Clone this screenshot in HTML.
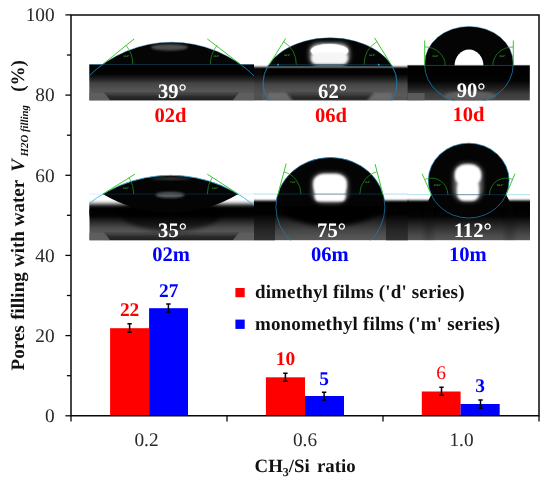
<!DOCTYPE html>
<html><head><meta charset="utf-8"><title>Pores filling with water</title>
<style>
html,body{margin:0;padding:0;background:#fff;}
svg{display:block;will-change:transform;}
text{font-family:"Liberation Serif",serif;text-rendering:geometricPrecision;}
.b{font-weight:bold;}
</style></head><body>
<svg width="550" height="483" viewBox="0 0 550 483">
<defs>
<linearGradient id="gs1" x1="0" y1="0" x2="0" y2="1">
<stop offset="0" stop-color="#000"/><stop offset="0.35" stop-color="#030303"/><stop offset="0.6" stop-color="#1c1c1c"/><stop offset="0.85" stop-color="#484848"/><stop offset="1" stop-color="#5c5c5c"/>
</linearGradient>
<linearGradient id="gs2" x1="0" y1="0" x2="0" y2="1">
<stop offset="0" stop-color="#000"/><stop offset="0.3" stop-color="#020202"/><stop offset="0.6" stop-color="#1a1a1a"/><stop offset="0.85" stop-color="#3c3c3c"/><stop offset="1" stop-color="#505050"/>
</linearGradient>
<linearGradient id="band" x1="0" y1="0" x2="0" y2="1"><stop offset="0" stop-color="#141414" stop-opacity="0"/><stop offset="0.5" stop-color="#141414" stop-opacity="0.6"/><stop offset="1" stop-color="#141414" stop-opacity="0.8"/></linearGradient>
<filter id="by22" x="-5%" y="-80%" width="110%" height="260%"><feGaussianBlur stdDeviation="0 2.2"/></filter>
<filter id="by12" x="-5%" y="-80%" width="110%" height="260%"><feGaussianBlur stdDeviation="0 1.2"/></filter>
<filter id="by10" x="-5%" y="-80%" width="110%" height="260%"><feGaussianBlur stdDeviation="0 1.0"/></filter>
<filter id="b1" x="-30%" y="-30%" width="160%" height="160%"><feGaussianBlur stdDeviation="1.1"/></filter>
<filter id="b2" x="-30%" y="-30%" width="160%" height="160%"><feGaussianBlur stdDeviation="2"/></filter>
<filter id="b05" x="-10%" y="-30%" width="120%" height="160%"><feGaussianBlur stdDeviation="0.6"/></filter>
<filter id="be" x="-5%" y="-60%" width="110%" height="220%"><feGaussianBlur stdDeviation="1.6"/></filter>

<clipPath id="cT"><rect x="89" y="15" width="441" height="85.3"/></clipPath>
<clipPath id="cB"><rect x="89" y="140" width="441" height="100.3"/></clipPath>
<clipPath id="c1a"><rect x="89" y="20" width="165" height="45"/></clipPath>
<clipPath id="c1"><rect x="89.3" y="20" width="165.4" height="80.4"/></clipPath>
<clipPath id="c2a"><rect x="254" y="20" width="153.6" height="46.4"/></clipPath>
<clipPath id="c2"><rect x="254" y="20" width="154.4" height="80.4"/></clipPath>
<clipPath id="c3a"><rect x="407.6" y="20" width="122.4" height="45.8"/></clipPath>
<clipPath id="c3"><rect x="407.6" y="20" width="122.2" height="80.4"/></clipPath>
<clipPath id="c4a"><rect x="89" y="150" width="165" height="44.1"/></clipPath>
<clipPath id="c4"><rect x="89.3" y="150" width="165.4" height="90.4"/></clipPath>
<clipPath id="c5"><rect x="254" y="145" width="154.4" height="95.4"/></clipPath>
<clipPath id="c5top"><rect x="254" y="145" width="153.6" height="61"/></clipPath>
<clipPath id="cTb"><rect x="89" y="65" width="441" height="35.4"/></clipPath>
<clipPath id="c6"><rect x="407.6" y="140" width="122.4" height="100.4"/></clipPath>
</defs>
<rect width="550" height="483" fill="#fff"/>
<g id="p1">
<defs><linearGradient id="g1" gradientUnits="userSpaceOnUse" x1="0" y1="64.7" x2="0" y2="100.4"><stop offset="0.000" stop-color="#000"/><stop offset="0.261" stop-color="#040404"/><stop offset="0.401" stop-color="#222"/><stop offset="0.527" stop-color="#444"/><stop offset="0.681" stop-color="#525252"/><stop offset="0.849" stop-color="#5a5a5a"/><stop offset="1.000" stop-color="#525252"/></linearGradient></defs><rect x="89.3" y="64.7" width="164.7" height="35.7" fill="url(#g1)"/>
<g clip-path="url(#c1)">
<path d="M89.3,93 H104.6 L110.5,100.4 H89.3Z" fill="#5e5e5e"/><path d="M254,93 H238.5 L232.5,100.4 H254Z" fill="#5e5e5e"/>
<path d="M103,91.5 L110.5,100.6 H232.5 L240,91.5 Z" fill="url(#band)" filter="url(#b05)"/>
</g>
<g clip-path="url(#c1a)"><circle cx="171.6" cy="160.3" r="118.1" fill="#050505"/>
<ellipse cx="169.5" cy="47.3" rx="18.5" ry="3.2" fill="#505050" filter="url(#b1)"/></g>
<g clip-path="url(#c1)"><circle cx="171.6" cy="160.3" r="118.1" fill="none" stroke="#1c7eb0" stroke-width="0.75" opacity="0.55"/><g clip-path="url(#cTb)"><circle cx="171.6" cy="160.3" r="118.1" fill="none" stroke="#1c7eb0" stroke-width="0.8"/></g></g>
<line x1="89.3" y1="64.6" x2="254" y2="64.6" stroke="#0b4562" stroke-width="0.7"/>
<line x1="102.8" y1="64.3" x2="134.2" y2="38.9" stroke="#3cc82c" stroke-width="1"/>
<line x1="240.4" y1="64.3" x2="207.3" y2="38.9" stroke="#3cc82c" stroke-width="1"/>
<path d="M132.8,64.3 A30,30 0 0 0 126.1,45.4" fill="none" stroke="#1f9a1f" stroke-width="0.7"/>
<path d="M210.4,64.3 A30,30 0 0 1 217.1,45.4" fill="none" stroke="#1f9a1f" stroke-width="0.7"/>
<text x="126.5" y="57" font-size="2.7" fill="#3cc82c" text-anchor="middle" font-family="Liberation Sans, sans-serif" font-weight="bold">39.0°</text>
<text x="216.5" y="57" font-size="2.7" fill="#3cc82c" text-anchor="middle" font-family="Liberation Sans, sans-serif" font-weight="bold">39.0°</text>
</g>
<g id="p2">
<g clip-path="url(#c2)"><rect x="250" y="66.9" width="162" height="8" fill="#000" filter="url(#by10)"/></g>
<defs><linearGradient id="g2" gradientUnits="userSpaceOnUse" x1="0" y1="69" x2="0" y2="100.4"><stop offset="0.000" stop-color="#000"/><stop offset="0.175" stop-color="#040404"/><stop offset="0.334" stop-color="#222"/><stop offset="0.478" stop-color="#444"/><stop offset="0.637" stop-color="#525252"/><stop offset="0.828" stop-color="#5a5a5a"/><stop offset="1.000" stop-color="#525252"/></linearGradient></defs><rect x="254" y="69" width="154.2" height="31.4" fill="url(#g2)"/>
<rect x="254" y="68" width="8.3" height="32.4" fill="#2a2a2a" opacity="0.15"/>
<g clip-path="url(#c2)">
<path d="M268,93 H287 L293,100.4 H268Z" fill="#6a6a6a" filter="url(#b1)"/><path d="M392,93 H373 L367,100.4 H392Z" fill="#6a6a6a" filter="url(#b1)"/>
<path d="M285,91.5 L293,100.6 H367 L375,91.5 Z" fill="url(#band)" filter="url(#b1)"/>
</g>
<g clip-path="url(#c2a)"><ellipse cx="330" cy="83" rx="67" ry="45.2" fill="#040404"/></g>
<g clip-path="url(#c2a)"><rect x="309.5" y="43" width="40" height="23" rx="10" ry="8" fill="#999" filter="url(#b2)"/><ellipse cx="329.5" cy="50.7" rx="18.8" ry="6.8" fill="#fff" filter="url(#b05)"/><ellipse cx="329.5" cy="50.7" rx="18.8" ry="6.8" fill="#fff" filter="url(#b1)"/><rect x="311.2" y="52.5" width="36.6" height="11.6" rx="5.5" fill="#f6f6f6" filter="url(#b1)"/></g>
<g clip-path="url(#c2)"><ellipse cx="330" cy="83" rx="67" ry="45.2" fill="none" stroke="#1c7eb0" stroke-width="0.75" opacity="0.55"/><g clip-path="url(#cTb)"><ellipse cx="330" cy="83" rx="67" ry="45.2" fill="none" stroke="#1c7eb0" stroke-width="0.8"/></g></g>
<line x1="269.3" y1="64.7" x2="391.1" y2="64.7" stroke="#0b4562" stroke-width="0.7"/>
<circle cx="278" cy="64.7" r="0.9" fill="#2aa8e8"/><circle cx="378.7" cy="64.7" r="0.9" fill="#2aa8e8"/>
<line x1="269.3" y1="64.6" x2="285.6" y2="38.5" stroke="#3cc82c" stroke-width="1"/>
<line x1="391.1" y1="64.6" x2="374.5" y2="37.8" stroke="#3cc82c" stroke-width="1"/>
<path d="M296.3,64.6 A27,27 0 0 0 283.6,41.7" fill="none" stroke="#1f9a1f" stroke-width="0.7"/>
<path d="M364.1,64.6 A27,27 0 0 1 376.8,41.7" fill="none" stroke="#1f9a1f" stroke-width="0.7"/>
<text x="287.5" y="56" font-size="2.7" fill="#3cc82c" text-anchor="middle" font-family="Liberation Sans, sans-serif" font-weight="bold">62.0°</text>
<text x="372.5" y="56" font-size="2.7" fill="#3cc82c" text-anchor="middle" font-family="Liberation Sans, sans-serif" font-weight="bold">62.0°</text>
</g>
<g id="p3">
<defs><linearGradient id="g3" gradientUnits="userSpaceOnUse" x1="0" y1="65.5" x2="0" y2="100.4"><stop offset="0.000" stop-color="#000"/><stop offset="0.444" stop-color="#030303"/><stop offset="0.645" stop-color="#1e1e1e"/><stop offset="0.817" stop-color="#3c3c3c"/><stop offset="1.000" stop-color="#464646"/></linearGradient></defs><rect x="407.6" y="65.5" width="122.2" height="34.9" fill="url(#g3)"/>
<g clip-path="url(#c3)">
<rect x="407.6" y="93" width="17" height="7.4" fill="#5a5a5a"/>
<ellipse cx="470" cy="96" rx="26" ry="5" fill="#5e5e5e" filter="url(#b1)"/>
</g>
<g clip-path="url(#c3a)"><ellipse cx="469" cy="63.6" rx="44.3" ry="37.2" fill="#040404"/></g>
<g clip-path="url(#c3a)"><ellipse cx="469" cy="65.8" rx="14.4" ry="16.4" fill="#fff" filter="url(#b05)"/></g>
<g clip-path="url(#c3)"><ellipse cx="469" cy="63.6" rx="44.3" ry="37.2" fill="none" stroke="#1c7eb0" stroke-width="0.75" opacity="0.55" clip-path="url(#c3a)"/><g clip-path="url(#cTb)"><ellipse cx="468.9" cy="64.8" rx="44.3" ry="38.3" fill="none" stroke="#1c7eb0" stroke-width="0.8"/></g></g>
<line x1="407.6" y1="65.4" x2="529.8" y2="65.4" stroke="#0b4562" stroke-width="0.7"/>
<line x1="424.7" y1="65.3" x2="424.7" y2="40.5" stroke="#3cc82c" stroke-width="1"/>
<line x1="513.3" y1="65.3" x2="513.3" y2="40.5" stroke="#3cc82c" stroke-width="1"/>
<path d="M445.2,65.3 A20.5,18.4 0 0 0 424.7,46.9" fill="none" stroke="#1f9a1f" stroke-width="0.7"/><path d="M492.8,65.3 A20.5,18.4 0 0 1 513.3,46.9" fill="none" stroke="#1f9a1f" stroke-width="0.7"/>
<text x="435.5" y="56.5" font-size="2.7" fill="#3cc82c" text-anchor="middle" font-family="Liberation Sans, sans-serif" font-weight="bold">90.0°</text>
<text x="502.5" y="56.5" font-size="2.7" fill="#3cc82c" text-anchor="middle" font-family="Liberation Sans, sans-serif" font-weight="bold">90.0°</text>
</g>
<g id="p4">
<g clip-path="url(#c4)">
<rect x="85" y="204" width="172" height="12" fill="#000" filter="url(#by22)"/>
<defs><linearGradient id="g4" gradientUnits="userSpaceOnUse" x1="0" y1="209.5" x2="0" y2="240.4"><stop offset="0.000" stop-color="#000"/><stop offset="0.210" stop-color="#030303"/><stop offset="0.437" stop-color="#303030"/><stop offset="0.599" stop-color="#4c4c4c"/><stop offset="0.793" stop-color="#5a5a5a"/><stop offset="1.000" stop-color="#525252"/></linearGradient></defs><rect x="89.3" y="209.5" width="164.7" height="30.9" fill="url(#g4)"/>
<ellipse cx="171" cy="214" rx="50" ry="17" fill="#000" opacity="0.6" filter="url(#b2)"/>
<path d="M89.3,233 H104.6 L110.5,240.4 H89.3Z" fill="#5e5e5e"/><path d="M254,233 H238.5 L232.5,240.4 H254Z" fill="#5e5e5e"/>
<path d="M103,231.5 L110.5,240.6 H232.5 L240,231.5 Z" fill="url(#band)" filter="url(#b05)"/>
</g>
<g clip-path="url(#c4)"><path d="M102.8,194.1 A131.5,131.5 0 0 1 238.3,194.1 A131.5,131.5 0 0 1 102.8,194.1 Z" fill="#040404"/>
<ellipse cx="170" cy="194.9" rx="14.5" ry="2.9" fill="#606060" filter="url(#b1)"/><ellipse cx="171" cy="178.6" rx="20" ry="1.3" fill="#3a3a3a" filter="url(#b1)"/></g>
<g clip-path="url(#c4)"><circle cx="170.5" cy="306.8" r="131.5" fill="none" stroke="#3fb4e6" stroke-width="0.9"/></g>
<path d="M89.3,194.1H102.8M238.3,194.1H254" stroke="#bfe7f5" stroke-width="0.6" fill="none"/>
<line x1="102.8" y1="194.1" x2="238.3" y2="194.1" stroke="#0a3a52" stroke-width="0.6"/>
<line x1="102.8" y1="194.1" x2="134.9" y2="174.2" stroke="#3cc82c" stroke-width="1"/>
<line x1="238.3" y1="194.1" x2="207.3" y2="174.2" stroke="#3cc82c" stroke-width="1"/>
<path d="M133.8,194.1 A31,31 0 0 0 129.1,177.7" fill="none" stroke="#1f9a1f" stroke-width="0.7"/>
<path d="M207.3,194.1 A31,31 0 0 1 212.0,177.7" fill="none" stroke="#1f9a1f" stroke-width="0.7"/>
<text x="126" y="188.5" font-size="2.7" fill="#3cc82c" text-anchor="middle" font-family="Liberation Sans, sans-serif" font-weight="bold">35.0°</text>
<text x="215" y="188.5" font-size="2.7" fill="#3cc82c" text-anchor="middle" font-family="Liberation Sans, sans-serif" font-weight="bold">35.0°</text>
</g>
<g id="p5">
<g clip-path="url(#c5)">
<rect x="250" y="200.5" width="162" height="10" fill="#000" filter="url(#by10)"/>
<defs><linearGradient id="g5" gradientUnits="userSpaceOnUse" x1="0" y1="203.5" x2="0" y2="240.4"><stop offset="0.000" stop-color="#000"/><stop offset="0.285" stop-color="#030303"/><stop offset="0.501" stop-color="#282828"/><stop offset="0.718" stop-color="#444"/><stop offset="0.881" stop-color="#525252"/><stop offset="1.000" stop-color="#585858"/></linearGradient></defs><rect x="254" y="203.5" width="154.2" height="36.9" fill="url(#g5)"/>
<rect x="254" y="203" width="21" height="38" fill="#000" opacity="0.45"/><rect x="386" y="203" width="22.4" height="38" fill="#000" opacity="0.45"/>
<ellipse cx="330.4" cy="205" rx="51" ry="21" fill="#000" filter="url(#b2)"/>
</g>
<g clip-path="url(#c5)"><ellipse cx="330.4" cy="207" rx="54.5" ry="49.5" fill="#040404" clip-path="url(#c5top)"/></g>
<g clip-path="url(#c5)"><rect x="312" y="173" width="36" height="30" rx="11" ry="10" fill="#777" filter="url(#b2)"/><rect x="313.2" y="173.8" width="33.6" height="21" rx="11" ry="9.5" fill="#fff" filter="url(#b1)"/><rect x="314.6" y="185" width="31" height="16.6" rx="4.5" fill="#fff" filter="url(#b1)"/></g>
<g clip-path="url(#c5)"><ellipse cx="330.4" cy="207" rx="54.5" ry="49.5" fill="none" stroke="#1c7eb0" stroke-width="0.75"/></g>
<path d="M254,194.1H278M382.8,194.1H408" stroke="#96d4ee" stroke-width="0.75" fill="none"/>
<line x1="278" y1="194.1" x2="382.8" y2="194.1" stroke="#0b4562" stroke-width="0.6"/>
<line x1="278" y1="194.1" x2="286.2" y2="163.5" stroke="#3cc82c" stroke-width="1"/>
<line x1="382.8" y1="194.1" x2="375.1" y2="164.1" stroke="#3cc82c" stroke-width="1"/>
<path d="M301.0,194.1 A23,23 0 0 0 284.0,171.9" fill="none" stroke="#1f9a1f" stroke-width="0.7"/>
<path d="M359.8,194.1 A23,23 0 0 1 376.8,171.9" fill="none" stroke="#1f9a1f" stroke-width="0.7"/>
<text x="293" y="183" font-size="2.7" fill="#3cc82c" text-anchor="middle" font-family="Liberation Sans, sans-serif" font-weight="bold">75.0°</text>
<text x="367.5" y="183" font-size="2.7" fill="#3cc82c" text-anchor="middle" font-family="Liberation Sans, sans-serif" font-weight="bold">75.0°</text>
</g>
<g id="p6">
<g clip-path="url(#c6)">
<rect x="403" y="200.3" width="131" height="10" fill="#000" filter="url(#by12)"/>
<defs><linearGradient id="g6" gradientUnits="userSpaceOnUse" x1="0" y1="204" x2="0" y2="240.4"><stop offset="0.000" stop-color="#000"/><stop offset="0.330" stop-color="#030303"/><stop offset="0.549" stop-color="#222"/><stop offset="0.742" stop-color="#3c3c3c"/><stop offset="0.879" stop-color="#4c4c4c"/><stop offset="1.000" stop-color="#565656"/></linearGradient></defs><rect x="407.6" y="204" width="122.4" height="36.4" fill="url(#g6)"/>
<rect x="424" y="205" width="9" height="36" fill="#111" opacity="0.22" filter="url(#b2)"/><rect x="505" y="205" width="9" height="36" fill="#111" opacity="0.22" filter="url(#b2)"/>
</g>
<g clip-path="url(#c6)"><ellipse cx="468.7" cy="180.6" rx="40.4" ry="37.4" fill="#040404"/>
<path d="M431.3,194.6 Q428.5,200 426,207 L512,207 Q509,200 506.1,194.6 Z" fill="#040404"/></g>
<g clip-path="url(#c6)"><rect x="453.5" y="163.5" width="29" height="38" rx="12" ry="11" fill="#777" filter="url(#b2)"/><rect x="454.8" y="164.3" width="26.4" height="22" rx="11" ry="10" fill="#fff" filter="url(#b1)"/><rect x="457" y="180" width="22" height="20.8" rx="7" ry="7" fill="#fff" filter="url(#b1)"/></g>
<g clip-path="url(#c6)"><ellipse cx="468.7" cy="180.6" rx="40.4" ry="37.4" fill="none" stroke="#1c7eb0" stroke-width="0.75"/></g>
<path d="M407.6,194.7H431.3M506.1,194.7H530" stroke="#96d4ee" stroke-width="0.75" fill="none"/>
<line x1="431.3" y1="194.7" x2="506.1" y2="194.7" stroke="#0b4562" stroke-width="0.6"/>
<line x1="431.3" y1="194.7" x2="422.1" y2="173.7" stroke="#3cc82c" stroke-width="1"/>
<line x1="506.1" y1="194.7" x2="515" y2="173.7" stroke="#3cc82c" stroke-width="1"/>
<path d="M447.9,194.7 A16.6,16.6 0 0 0 425.1,179.3" fill="none" stroke="#1f9a1f" stroke-width="0.7"/>
<path d="M489.5,194.7 A16.6,16.6 0 0 1 512.3,179.3" fill="none" stroke="#1f9a1f" stroke-width="0.7"/>
<text x="437.5" y="185.8" font-size="2.7" fill="#3cc82c" text-anchor="middle" font-family="Liberation Sans, sans-serif" font-weight="bold">112.0°</text>
<text x="500" y="185.8" font-size="2.7" fill="#3cc82c" text-anchor="middle" font-family="Liberation Sans, sans-serif" font-weight="bold">112.0°</text>
</g>
<text class="b" x="172.3" y="97.6" font-size="20.6" fill="#fff" text-anchor="middle">39°</text>
<text class="b" x="332.5" y="97.6" font-size="20.6" fill="#fff" text-anchor="middle">62°</text>
<text class="b" x="471.2" y="97.4" font-size="20.6" fill="#fff" text-anchor="middle">90°</text>
<text class="b" x="170.5" y="121.5" font-size="20.6" fill="#ff0000" text-anchor="middle">02d</text>
<text class="b" x="331" y="121.5" font-size="20.6" fill="#ff0000" text-anchor="middle">06d</text>
<text class="b" x="468.5" y="121.2" font-size="20.6" fill="#ff0000" text-anchor="middle">10d</text>
<text class="b" x="172.5" y="236.5" font-size="20.6" fill="#fff" text-anchor="middle">35°</text>
<text class="b" x="331.5" y="236.5" font-size="20.6" fill="#fff" text-anchor="middle">75°</text>
<text class="b" x="472.7" y="236.9" font-size="20.6" fill="#fff" text-anchor="middle">112°</text>
<text class="b" x="171" y="260.7" font-size="20.6" fill="#0000ff" text-anchor="middle">02m</text>
<text class="b" x="329.9" y="260.7" font-size="20.6" fill="#0000ff" text-anchor="middle">06m</text>
<text class="b" x="467.8" y="260.8" font-size="20.6" fill="#0000ff" text-anchor="middle">10m</text>
<rect x="110.1" y="328.2" width="39.0" height="87.6" fill="#ff0000"/>
<rect x="149.1" y="308.2" width="38.9" height="107.6" fill="#0000ff"/>
<rect x="265.9" y="377.3" width="39.1" height="38.5" fill="#ff0000"/>
<rect x="305.0" y="396.0" width="39.0" height="19.8" fill="#0000ff"/>
<rect x="421.8" y="391.5" width="38.8" height="24.3" fill="#ff0000"/>
<rect x="460.6" y="404.0" width="39.1" height="11.8" fill="#0000ff"/>
<path d="M129.6,323.3V332.7M127.39999999999999,323.8H131.79999999999998M127.39999999999999,332.2H131.79999999999998" stroke="#000" stroke-width="1.5" fill="none"/>
<path d="M168.4,303.6V312.4M166.20000000000002,304.1H170.6M166.20000000000002,311.9H170.6" stroke="#000" stroke-width="1.5" fill="none"/>
<path d="M285.4,372.7V381.8M283.2,373.2H287.59999999999997M283.2,381.3H287.59999999999997" stroke="#000" stroke-width="1.5" fill="none"/>
<path d="M324.1,391.8V400.5M321.90000000000003,392.3H326.3M321.90000000000003,400.0H326.3" stroke="#000" stroke-width="1.5" fill="none"/>
<path d="M441.5,386.7V395.8M439.3,387.2H443.7M439.3,395.3H443.7" stroke="#000" stroke-width="1.5" fill="none"/>
<path d="M480.5,399.5V408.7M478.3,400.0H482.7M478.3,408.2H482.7" stroke="#000" stroke-width="1.5" fill="none"/>
<text class="b" x="129.6" y="315.5" font-size="19.4" fill="#ff0000" text-anchor="middle">22</text>
<text class="b" x="168.7" y="297.3" font-size="19.4" fill="#0000ff" text-anchor="middle">27</text>
<text class="b" x="285.4" y="365.1" font-size="19.4" fill="#ff0000" text-anchor="middle">10</text>
<text class="b" x="324.1" y="384.5" font-size="19.4" fill="#0000ff" text-anchor="middle">5</text>
<text x="441.2" y="378.5" font-size="19.4" fill="#ff0000" text-anchor="middle">6</text>
<text class="b" x="480" y="392.2" font-size="19.4" fill="#0000ff" text-anchor="middle">3</text>
<rect x="235.4" y="288" width="9.3" height="9.2" fill="#ff0000"/>
<rect x="235.4" y="319.6" width="9.3" height="9.3" fill="#0000ff"/>
<text class="b" x="254.9" y="298.2" font-size="19" fill="#111" textLength="209.6" lengthAdjust="spacing">dimethyl films ('d' series)</text>
<text class="b" x="254.9" y="330.2" font-size="19" fill="#111" textLength="245.1" lengthAdjust="spacing">monomethyl films ('m' series)</text>
<path d="M71.0,15.0H539.0V415.8H71.0Z" fill="none" stroke="#080808" stroke-width="1.5"/>
<line x1="65.4" y1="415.8" x2="71.0" y2="415.8" stroke="#080808" stroke-width="1.3"/>
<line x1="66.9" y1="375.7" x2="71.0" y2="375.7" stroke="#080808" stroke-width="1.3"/>
<line x1="65.4" y1="335.6" x2="71.0" y2="335.6" stroke="#080808" stroke-width="1.3"/>
<line x1="66.9" y1="295.5" x2="71.0" y2="295.5" stroke="#080808" stroke-width="1.3"/>
<line x1="65.4" y1="255.4" x2="71.0" y2="255.4" stroke="#080808" stroke-width="1.3"/>
<line x1="66.9" y1="215.3" x2="71.0" y2="215.3" stroke="#080808" stroke-width="1.3"/>
<line x1="65.4" y1="175.3" x2="71.0" y2="175.3" stroke="#080808" stroke-width="1.3"/>
<line x1="66.9" y1="135.2" x2="71.0" y2="135.2" stroke="#080808" stroke-width="1.3"/>
<line x1="65.4" y1="95.1" x2="71.0" y2="95.1" stroke="#080808" stroke-width="1.3"/>
<line x1="66.9" y1="55.0" x2="71.0" y2="55.0" stroke="#080808" stroke-width="1.3"/>
<line x1="65.4" y1="14.9" x2="71.0" y2="14.9" stroke="#080808" stroke-width="1.3"/>
<line x1="71" y1="415.8" x2="71" y2="421.6" stroke="#080808" stroke-width="1.3"/>
<line x1="227" y1="415.8" x2="227" y2="421.6" stroke="#080808" stroke-width="1.3"/>
<line x1="383" y1="415.8" x2="383" y2="421.6" stroke="#080808" stroke-width="1.3"/>
<line x1="539" y1="415.8" x2="539" y2="421.6" stroke="#080808" stroke-width="1.3"/>
<text x="54.6" y="422.0" font-size="19.3" fill="#2a2a2a" text-anchor="end">0</text>
<text x="54.6" y="341.8" font-size="19.3" fill="#2a2a2a" text-anchor="end">20</text>
<text x="54.6" y="261.6" font-size="19.3" fill="#2a2a2a" text-anchor="end">40</text>
<text x="54.6" y="181.5" font-size="19.3" fill="#2a2a2a" text-anchor="end">60</text>
<text x="54.6" y="101.3" font-size="19.3" fill="#2a2a2a" text-anchor="end">80</text>
<text x="54.6" y="21.1" font-size="19.3" fill="#2a2a2a" text-anchor="end">100</text>
<text x="146.5" y="445.6" font-size="19.3" fill="#2a2a2a" text-anchor="middle">0.2</text>
<text x="305" y="445.6" font-size="19.3" fill="#2a2a2a" text-anchor="middle">0.6</text>
<text x="461.5" y="445.6" font-size="19.3" fill="#2a2a2a" text-anchor="middle">1.0</text>
<text class="b" x="254.6" y="471.8" font-size="18.8" fill="#111">CH<tspan font-size="12" dy="4">3</tspan><tspan dy="-4">/Si</tspan><tspan x="317">ratio</tspan></text>
<text class="b" transform="translate(23.6,0) rotate(-90)" font-size="19" fill="#111"><tspan x="-370.4">Pores</tspan><tspan x="-319.8">filling</tspan><tspan x="-267">with</tspan><tspan x="-226.2">water</tspan><tspan x="-171.8" font-style="italic">V</tspan><tspan x="-156.4" dy="4.8" font-style="italic" font-size="10.8">H2O filling</tspan><tspan x="-91.8" dy="-4.8">(%)</tspan></text>
</svg></body></html>
